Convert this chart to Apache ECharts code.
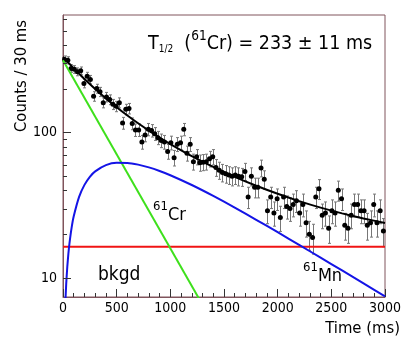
<!DOCTYPE html>
<html>
<head>
<meta charset="utf-8">
<script src="https://cdn.jsdelivr.net/npm/echarts@6.0.0/dist/echarts.min.js"></script>
<style>
  html, body { margin: 0; padding: 0; background: #fff; }
  #chart { width: 415px; height: 355px; }
</style>
</head>
<body>
<div id="chart"></div>
<script>
// 61Cr decay curve, 30 ms per bin
const binWidth = 30;
const counts = [
  317, 313, 275, 271, 261, 265, 217, 243, 231, 177,
  200, 190, 160, 175, 168, 156, 151, 160, 116, 144,
  146, 115, 104, 104, 86, 96, 105, 103, 98, 92,
  88, 86, 74, 85, 67, 83, 85, 105, 72, 83,
  63, 68, 62, 62.5, 63, 66, 68, 57.5, 55, 53,
  52, 51, 50, 51, 50, 49.6, 54, 36, 50, 42,
  42, 57, 47.6, 29, 36, 28, 35, 26, 36, 31,
  30, 32, 34, 28, 32, 24, 20, 19, 36, 41,
  27, 28, 22, 29, 28, 40, 35, 23, 22, 27,
  32, 32, 29, 29, 23, 24, 32, 24, 29, 21
];
const countErrors = [
  17.8, 17.7, 16.6, 16.5, 16.2, 16.3, 14.7, 15.6, 15.2, 13.3,
  14.1, 13.8, 12.6, 13.2, 13.0, 12.5, 12.3, 12.6, 10.8, 12.0,
  12.1, 10.7, 10.2, 10.2, 9.3, 9.8, 10.2, 10.1, 9.9, 9.6,
  9.4, 9.3, 8.6, 9.2, 8.2, 9.1, 9.2, 10.2, 8.5, 9.1,
  7.9, 8.2, 7.9, 7.9, 7.9, 8.1, 8.2, 7.6, 7.4, 7.3,
  7.2, 7.1, 7.1, 7.1, 7.1, 7.0, 7.3, 6.0, 7.1, 6.5,
  6.5, 7.5, 6.9, 5.4, 6.0, 5.3, 5.9, 5.1, 6.0, 5.6,
  5.5, 5.7, 5.8, 5.3, 5.7, 4.9, 4.5, 4.4, 6.0, 6.4,
  5.2, 5.3, 4.7, 5.4, 5.3, 6.3, 5.9, 4.8, 4.7, 5.2,
  5.7, 5.7, 5.4, 5.4, 4.8, 4.9, 5.7, 4.9, 5.4, 4.6
];

// fit curves
const fitTimes = [0, 20, 50, 100, 150, 200, 300, 400, 500, 600, 700, 800, 900, 1000,
  1200, 1400, 1600, 1800, 2000, 2200, 2400, 2600, 2800, 3000];
const fitTotal = [329.4, 317.5, 300.8, 275.4, 252.8, 232.7, 198.6, 171.2, 148.9, 130.6, 115.5, 102.9, 92.2, 83.2,
  68.7, 57.9, 49.5, 43.0, 37.9, 33.75, 30.45, 27.8, 25.65, 23.9];
const crTimes = [0, 1300];
const crValues = [313, 6.55];
const mnTimes = [5, 10, 20, 30, 40, 50, 60, 80, 100, 150, 200, 250, 300, 400, 500, 600, 700, 800, 900, 1000,
  1200, 1400, 1600, 1800, 2000, 2200, 2400, 2600, 2800, 3000];
const mnValues = [1.6, 3.17, 6.23, 9.15, 11.96, 14.65, 17.24, 22.1, 26.54, 36.1, 43.64, 49.54, 54.01, 59.58, 61.79, 61.72, 60.1, 57.5, 54.31, 50.8,
  43.53, 36.63, 30.46, 25.13, 20.64, 16.9, 13.8, 11.27, 9.18, 7.49];
const bkgdTimes = [0, 3000];
const bkgdValues = [16.4, 16.4];

const yLabels = [10, 100];
const yMinorTicks = [20, 30, 40, 50, 60, 70, 80, 90, 200, 300, 400, 500, 600];

const font = "'DejaVu Sans Condensed', 'DejaVu Sans', sans-serif";
const frameColor = '#80545c';
const tickColor = '#333';

const zip = (xs, ys) => xs.map((x, i) => [x, ys[i]]);
const binCenters = counts.map((v, i) => binWidth * i + binWidth / 2);

const chart = echarts.init(document.getElementById('chart'));

const option = {
  animation: false,
  grid: {
    left: 63, top: 15, width: 322, height: 282,
    show: true, borderColor: frameColor, borderWidth: 1
  },
  xAxis: {
    type: 'value', min: 0, max: 3000, interval: 500,
    axisLine: { show: true, lineStyle: { color: frameColor } },
    axisTick: { show: true, inside: true, length: 8, lineStyle: { color: tickColor, width: 1 } },
    minorTick: { show: true, splitNumber: 5, length: 4, lineStyle: { color: tickColor, width: 1 } },
    splitLine: { show: false },
    axisLabel: { color: '#000', fontFamily: font, fontSize: 14, margin: 4, formatter: v => String(v) }
  },
  yAxis: {
    type: 'log', logBase: 10, min: 7.41, max: 640,
    axisLine: { show: true, lineStyle: { color: frameColor } },
    axisTick: { show: false },
    splitLine: { show: false },
    axisLabel: {
      color: '#000', fontFamily: font, fontSize: 14, margin: 6,
      formatter: v => (yLabels.indexOf(Math.round(v)) >= 0 ? String(Math.round(v)) : '')
    }
  },
  series: [
    {
      // y ticks on the log axis: 10, 100 long, 20..90 / 200..600 short
      type: 'custom',
      silent: true,
      clip: false,
      z: 5,
      encode: { x: 0, y: 1 },
      data: yLabels.map(v => [0, v, 8]).concat(yMinorTicks.map(v => [0, v, 4])),
      renderItem: (params, api) => {
        const p = api.coord([api.value(0), api.value(1)]);
        const len = api.value(2);
        const y = Math.round(p[1]) + 0.5;
        return {
          type: 'line',
          shape: { x1: p[0], y1: y, x2: p[0] + len, y2: y },
          style: { stroke: tickColor, lineWidth: 1 }
        };
      }
    },
    {
      // error bars
      type: 'custom',
      silent: true,
      clip: true,
      encode: { x: 0, y: [1, 2] },
      data: counts.map((v, i) => [binCenters[i], v - countErrors[i], v + countErrors[i]]),
      renderItem: (params, api) => {
        const lo = api.coord([api.value(0), api.value(1)]);
        const hi = api.coord([api.value(0), api.value(2)]);
        const x = Math.round(lo[0]) + 0.5;
        const st = { stroke: '#777', lineWidth: 1 };
        return {
          type: 'group',
          children: [
            { type: 'line', shape: { x1: x, y1: lo[1], x2: x, y2: hi[1] }, style: st },
            { type: 'line', shape: { x1: x - 1.5, y1: lo[1], x2: x + 1.5, y2: lo[1] }, style: st },
            { type: 'line', shape: { x1: x - 1.5, y1: hi[1], x2: x + 1.5, y2: hi[1] }, style: st }
          ]
        };
      }
    },
    {
      type: 'line', data: zip(bkgdTimes, bkgdValues), showSymbol: false,
      lineStyle: { color: '#f01414', width: 2 }, silent: true
    },
    {
      type: 'line', data: zip(crTimes, crValues), showSymbol: false,
      lineStyle: { color: '#3ee01c', width: 2 }, silent: true
    },
    {
      type: 'line', data: zip(mnTimes, mnValues), showSymbol: false, smooth: 0.2,
      lineStyle: { color: '#1414e6', width: 2 }, silent: true
    },
    {
      type: 'scatter', data: zip(binCenters, counts), symbol: 'circle', symbolSize: 5,
      itemStyle: { color: '#000', opacity: 1 }, silent: true
    },
    {
      type: 'line', data: zip(fitTimes, fitTotal), showSymbol: false, smooth: 0.2,
      lineStyle: { color: '#000', width: 2 }, silent: true
    }
  ],
  graphic: [
    {
      type: 'text', x: 22, y: 20, rotation: Math.PI / 2,
      style: { text: 'Counts / 30 ms', font: '16.5px ' + font, fill: '#000', align: 'right', verticalAlign: 'middle' }
    },
    {
      type: 'text', x: 400, y: 329,
      style: { text: 'Time (ms)', font: '16.5px ' + font, fill: '#000', align: 'right', verticalAlign: 'middle' }
    },
    {
      type: 'text', x: 148, y: 29,
      style: {
        text: '{m|T}{sub|1/2}{m|  (}{sup|61}{m|Cr) = 233 ± 11 ms}',
        fill: '#000', verticalAlign: 'top',
        rich: {
          m: { fontFamily: font, fontSize: 19.5, lineHeight: 25, verticalAlign: 'bottom' },
          sub: { fontFamily: font, fontSize: 10, lineHeight: 12, verticalAlign: 'bottom' },
          sup: { fontFamily: font, fontSize: 13.5, lineHeight: 14, verticalAlign: 'top' }
        }
      }
    },
    {
      type: 'text', x: 153, y: 200,
      style: {
        text: '{sup|61}{m|Cr}', fill: '#000', verticalAlign: 'top',
        rich: {
          m: { fontFamily: font, fontSize: 18, lineHeight: 24, verticalAlign: 'bottom' },
          sup: { fontFamily: font, fontSize: 13, lineHeight: 14, verticalAlign: 'top' }
        }
      }
    },
    {
      type: 'text', x: 98, y: 266,
      style: { text: 'bkgd', font: '19px ' + font, fill: '#000', align: 'left', verticalAlign: 'alphabetic' }
    },
    {
      type: 'text', x: 303, y: 261,
      style: {
        text: '{sup|61}{m|Mn}', fill: '#000', verticalAlign: 'top',
        rich: {
          m: { fontFamily: font, fontSize: 18, lineHeight: 24, verticalAlign: 'bottom' },
          sup: { fontFamily: font, fontSize: 13, lineHeight: 14, verticalAlign: 'top' }
        }
      }
    }
  ]
};

chart.setOption(option);
</script>
</body>
</html>
